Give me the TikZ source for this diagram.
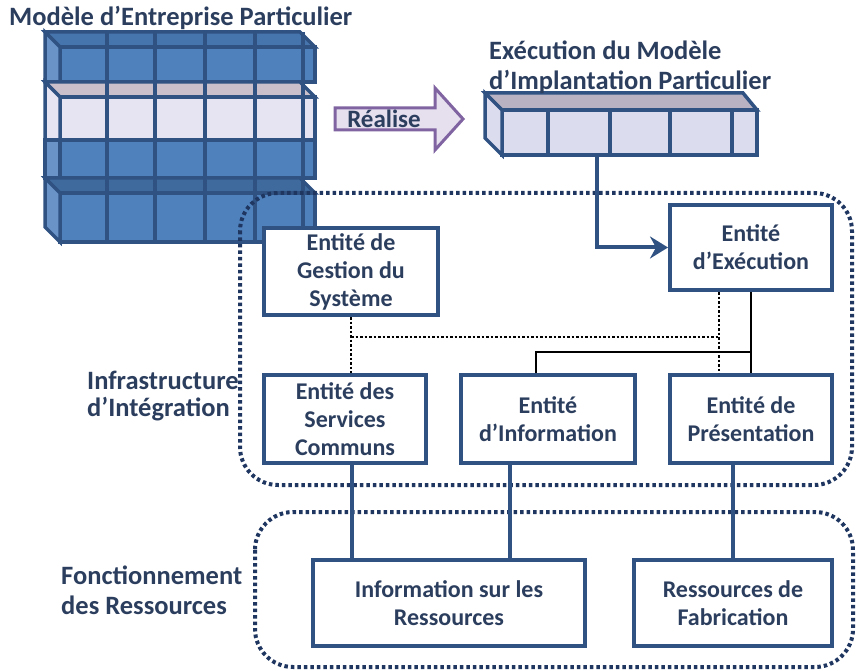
\documentclass[tikz,border=0pt]{standalone}
\usepackage{fontspec}
\setmainfont{Carlito}
\usetikzlibrary{arrows.meta}
\definecolor{bdr}{HTML}{2F5283}
\definecolor{txt}{HTML}{2C3E5E}
\definecolor{navy}{HTML}{1F3660}
\definecolor{blk}{HTML}{4F81BD}
\definecolor{blkside}{HTML}{6A93C8}
\definecolor{blktop}{HTML}{4674AC}
\definecolor{blkstripe}{HTML}{3F6A9E}
\definecolor{lav}{HTML}{E6E3F3}
\definecolor{lavtop}{HTML}{C9C0CC}
\definecolor{exfront}{HTML}{DCDCEF}
\definecolor{extop}{HTML}{B8B2C2}
\definecolor{purp}{HTML}{8064A2}
\definecolor{purpfill}{HTML}{E5DFEE}
% #1 front top y, #2 front bottom y, #3 front fill, #4 top fill, #5 side fill, #6 side bottom-left y
\newcommand{\cubelayer}[6]{%
  \filldraw[draw=bdr, line width=3.5pt, fill=#3] (60,#1) rectangle (315,#2);
  \filldraw[draw=bdr, line width=3.5pt, fill=#4] (45,#1-15) -- (300,#1-15) -- (315,#1) -- (60,#1) -- cycle;
  \filldraw[draw=bdr, line width=3.5pt, fill=#5] (45,#1-15) -- (60,#1) -- (60,#2) -- (45,#6) -- cycle;
}
\begin{document}
\begin{tikzpicture}[x=1pt,y=-1pt, line join=miter,
  entity/.style={draw=bdr, line width=4pt, fill=white, text=txt,
    font=\bfseries\fontsize{24}{28}\selectfont, align=center, inner sep=0pt},
  lbl/.style={text=txt, font=\bfseries\fontsize{26.5}{30}\selectfont, align=left, inner sep=0pt},
  dotbox/.style={draw=navy, line width=4pt, dash pattern=on 3.5pt off 3pt, rounded corners=38pt},
  dotlink/.style={draw=black, line width=2.5pt, dash pattern=on 2.5pt off 2pt},
  thinlink/.style={draw=black, line width=2.5pt},
  link/.style={draw=bdr, line width=4pt}]
\useasboundingbox (0,0) rectangle (857,671);

% big block (Modele d'Entreprise Particulier)
\cubelayer{47}{82}{blk}{blktop}{blkside}{82}
\cubelayer{97}{140}{lav}{lavtop}{lav}{140}
\filldraw[draw=bdr, line width=3.5pt, fill=blk] (60,140) rectangle (315,178);
\filldraw[draw=bdr, line width=3.5pt, fill=blkside] (45,140) rectangle (60,178);
\cubelayer{193}{242}{blk}{blkstripe}{blkside}{227}
\foreach \x in {107,155,205,255,303}
  \draw[bdr, line width=3.5pt] (\x,32) -- (\x,242);

% execution block
\filldraw[draw=bdr, line width=3.5pt, fill=exfront] (502,110) rectangle (757,155);
\filldraw[draw=bdr, line width=3.5pt, fill=extop] (485,93) -- (743,93) -- (757,110) -- (502,110) -- cycle;
\filldraw[draw=bdr, line width=3.5pt, fill=exfront] (485,93) -- (502,110) -- (502,155) -- (485,138) -- cycle;
\foreach \x in {548,610,670,732}
  \draw[bdr, line width=3.5pt] (\x,110) -- (\x,155);
\coordinate (exbot) at (597,155);

% titles
\node[lbl, anchor=west] (t1) at (9,18) {Modèle d’Entreprise Particulier};
\node[lbl, anchor=west] (t2) at (489,67) {Exécution du Modèle\\d’Implantation Particulier};

% Realise arrow
\filldraw[draw=purp, fill=purpfill, line width=3pt]
  (335,108) -- (435,108) -- (435,88) -- (463,119) -- (435,150) -- (435,130) -- (335,130) -- cycle;
\node[text=txt, font=\bfseries\fontsize{25}{28}\selectfont, inner sep=0pt] (real) at (384,119) {Réalise};

% dotted groups
\draw[dotbox] (240,193) rectangle (852,485);
\draw[dotbox] (255,512) rectangle (853,667);
\node[lbl, anchor=west, font=\bfseries\fontsize{26.5}{27}\selectfont] (infra) at (87,396.5) {Infrastructure\\d’Intégration};
\node[lbl, anchor=west] (fonc) at (61,590) {Fonctionnement\\des Ressources};

% entities
\node[entity, minimum width=174pt, minimum height=87pt] (gestion) at (351,271.5) {Entité de\\Gestion du\\Système};
\node[entity, minimum width=162pt, minimum height=85pt] (exec) at (751,247.5) {Entité\\d’Exécution};
\node[entity, minimum width=162pt, minimum height=88pt] (serv) at (345,419) {Entité des\\Services\\Communs};
\node[entity, minimum width=174pt, minimum height=88pt] (info) at (548,419) {Entité\\d’Information};
\node[entity, minimum width=162pt, minimum height=88pt] (pres) at (751,419) {Entité de\\Présentation};
\node[entity, minimum width=272pt, minimum height=86pt] (infores) at (449,603) {Information sur les\\Ressources};
\node[entity, minimum width=198pt, minimum height=86pt] (fab) at (733,603) {Ressources de\\Fabrication};

% connectors
\draw[link, -{Stealth[length=18pt,width=22pt,inset=6pt]}] (exbot) |- (exec.west);
\draw[thinlink] (exec.south) -- (pres.north);
\coordinate (j1) at (751,352);
\draw[thinlink] ([xshift=-12pt]info.north) |- (j1);
\coordinate (d1) at (351,337);
\coordinate (d2) at ([xshift=-32pt]exec.south);
\draw[dotlink] (gestion.south) -- (gestion.south |- serv.north);
\draw[dotlink] (d2) -- (d2 |- pres.north);
\draw[dotlink] (d1) -- (d1 -| d2);
\draw[link] ([xshift=7pt]serv.south) -- ([xshift=7pt]serv.south |- infores.north);
\draw[link] ([xshift=-38pt]info.south) -- ([xshift=-38pt]info.south |- infores.north);
\draw[link] ([xshift=-18pt]pres.south) -- (fab.north);
\end{tikzpicture}
\end{document}
